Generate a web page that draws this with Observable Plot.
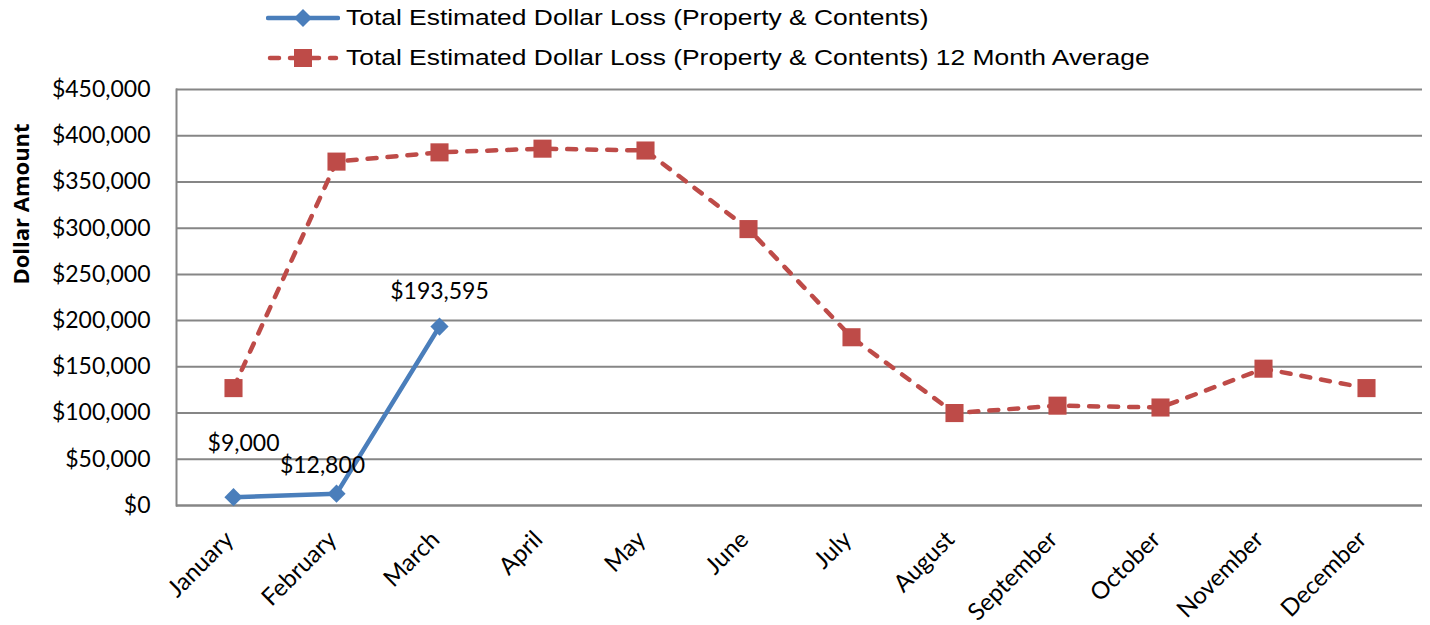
<!DOCTYPE html>
<html>
<head>
<meta charset="utf-8">
<script src="https://cdn.jsdelivr.net/npm/d3@7"></script>
<script src="https://cdn.jsdelivr.net/npm/@observablehq/plot@0.6"></script>
<style>
  html, body { margin: 0; padding: 0; background: #fff; }
  #wrap { position: relative; width: 1430px; height: 625px; overflow: hidden; }
  #legend { position: relative; height: 60px; font-family: "Liberation Sans", Arial, sans-serif; font-size: 22px; color: #000; }
  .row { position: absolute; left: 266px; display: flex; align-items: center; height: 30px; white-space: nowrap; }
  .row svg { margin-right: 6px; }
  .row span { display: inline-block; transform: scaleX(1.2); transform-origin: left center; }
  #ylabel { position: absolute; left: 20px; top: 204px; transform: translate(-50%, -50%) rotate(-90deg);
    font-family: "Open Sans", "Liberation Sans", sans-serif; font-weight: bold; font-size: 22px; white-space: nowrap; }
  #chart svg { overflow: visible; }
</style>
</head>
<body>
<div id="wrap">
  <div id="legend">
    <div class="row" style="top:3px">
      <svg width="74" height="30"><line x1="2" y1="15" x2="72" y2="15" stroke="#4a7ebb" stroke-width="4.5" stroke-linecap="round"/><path d="M37,6 L46,15 L37,24 L28,15 Z" fill="#4a7ebb"/></svg>
      <span>Total Estimated Dollar Loss (Property &amp; Contents)</span>
    </div>
    <div class="row" style="top:43px">
      <svg width="74" height="30"><line x1="4" y1="15" x2="70" y2="15" stroke="#be4b48" stroke-width="4.5" stroke-linecap="round" stroke-dasharray="9 11"/><rect x="28" y="6" width="18" height="18" fill="#be4b48"/></svg>
      <span>Total Estimated Dollar Loss (Property &amp; Contents) 12 Month Average</span>
    </div>
  </div>
  <div id="chart"></div>
  <div id="ylabel">Dollar Amount</div>
</div>
<script>
const months = ["January","February","March","April","May","June","July","August","September","October","November","December"];
const lossMonths = ["January","February","March"];
const lossValues = [9000, 12800, 193595];
const lossLabels = ["$9,000", "$12,800", "$193,595"];
const avgValues = [127000, 372000, 382000, 386000, 384000, 299000, 182000, 100000, 108000, 106000, 148000, 127000];
const yTicks = [0, 50000, 100000, 150000, 200000, 250000, 300000, 350000, 400000, 450000];

const loss = lossMonths.map((m, i) => ({month: m, value: lossValues[i], label: lossLabels[i]}));
const avg = months.map((m, i) => ({month: m, value: avgValues[i]}));
const labelOffsets = [{dx: 10, dy: -54}, {dx: -14, dy: -28}, {dx: 0, dy: -35}];

const fmt = d => "$" + d3.format(",")(d);

const chart = Plot.plot({
  width: 1430,
  height: 565,
  marginLeft: 176,
  marginRight: 8,
  marginTop: 29,
  marginBottom: 120,
  style: {fontFamily: "Lato, 'Open Sans', sans-serif", fontSize: "22px", color: "#000", background: "#fff", overflow: "visible"},
  x: {type: "point", domain: months, padding: 0.5, label: null},
  y: {domain: [0, 450000], label: null},
  marks: [
    Plot.gridY(yTicks, {stroke: "#868686", strokeWidth: 2, strokeOpacity: 1}),
    Plot.frame({anchor: "left", stroke: "#868686", strokeWidth: 2}),
    Plot.ruleY([0], {stroke: "#868686", strokeWidth: 2}),
    Plot.axisY(yTicks, {tickSize: 0, tickPadding: 26, tickFormat: fmt, fontSize: 23}),
    Plot.axisX(months, {tickSize: 0, tickRotate: -45, tickPadding: 30, dx: -4, fontSize: 24}),
    Plot.line(avg, {x: "month", y: "value", stroke: "#be4b48", strokeWidth: 4.5, strokeDasharray: "9 11", strokeLinecap: "round"}),
    Plot.dot(avg, {x: "month", y: "value", symbol: "square", r: 10.2, fill: "#be4b48", stroke: "none"}),
    Plot.line(loss, {x: "month", y: "value", stroke: "#4a7ebb", strokeWidth: 4.5}),
    Plot.dot(loss, {x: "month", y: "value", symbol: "diamond2", r: 8.2, fill: "#4a7ebb", stroke: "none"}),
    ...loss.map((d, i) => Plot.text([d], {x: "month", y: "value", text: "label", dx: labelOffsets[i].dx, dy: labelOffsets[i].dy, fontSize: 23, fill: "#000"}))
  ]
});
document.getElementById("chart").appendChild(chart);
</script>
</body>
</html>
